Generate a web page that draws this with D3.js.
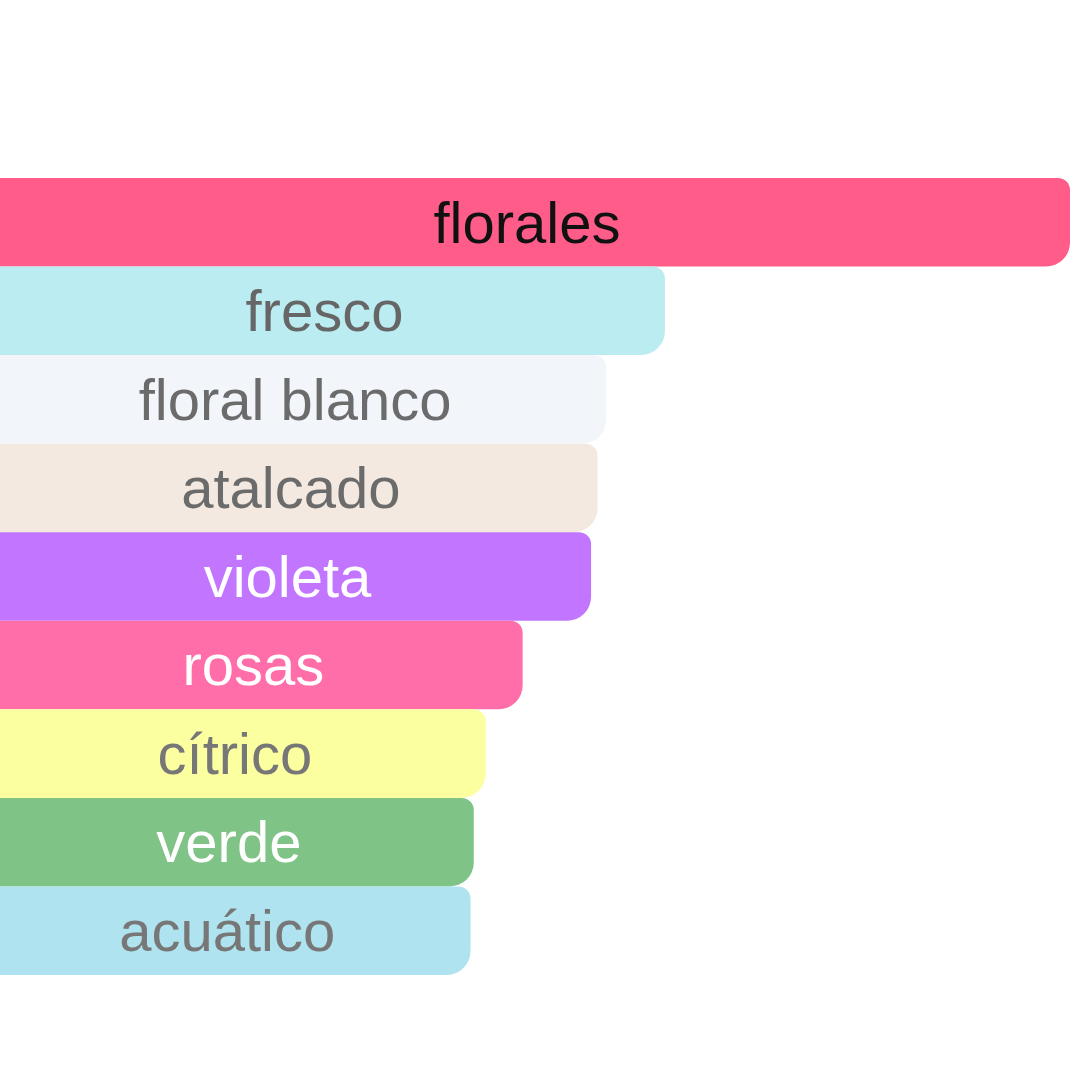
<!DOCTYPE html>
<html>
<head>
<meta charset="utf-8">
<script src="https://cdn.jsdelivr.net/npm/d3@7"></script>
<style>
  html, body { margin: 0; padding: 0; background: #fff; }
  svg { display: block; }
</style>
</head>
<body>
<svg id="chart" width="1080" height="1080"></svg>
<script>
// Accords (share of the strongest one, %)
const accords = ["florales", "fresco", "floral blanco", "atalcado", "violeta", "rosas", "cítrico", "verde", "acuático"];
const strengths = [100, 62.7, 57.3, 56.5, 55.9, 49.6, 46.2, 45.1, 44.8];
const barColors = ["#ff5c8a", "#baecf1", "#f2f5fa", "#f3e9e0", "#c275ff", "#ff6ea8", "#fcff9f", "#7fc387", "#aee3ef"];
const textColors = ["#111111", "#666666", "#6b6b6b", "#6b6b6b", "#ffffff", "#ffffff", "#777777", "#ffffff", "#777777"];

const rows = accords.map((name, i) => ({
  name,
  value: strengths[i],
  fill: barColors[i],
  text: textColors[i]
}));

const svg = d3.select("#chart");

// bars start a little off the left edge
const x = d3.scaleLinear().domain([0, 100]).range([-16, 1070]);
const y = d3.scaleBand().domain(accords).range([178, 975]).padding(0);

// top-right corner is tighter than the bottom-right one
const topR = 12;
const bottomR = 24;

const barPath = (x0, x1, y0, h) => {
  const rt = Math.min(topR, (x1 - x0) / 2);
  const rb = Math.min(bottomR, (x1 - x0) / 2);
  return `M${x0},${y0}H${x1 - rt}A${rt},${rt} 0 0 1 ${x1},${y0 + rt}` +
         `V${y0 + h - rb}A${rb},${rb} 0 0 1 ${x1 - rb},${y0 + h}H${x0}Z`;
};

const g = svg.append("g");

g.selectAll("path.bar")
  .data(rows)
  .join("path")
  .attr("class", "bar")
  .attr("d", d => barPath(x(0), x(d.value), y(d.name), y.bandwidth()))
  .attr("fill", d => d.fill);

g.selectAll("text.label")
  .data(rows)
  .join("text")
  .attr("class", "label")
  .attr("x", d => (x(0) + x(d.value)) / 2)
  .attr("y", d => y(d.name) + y.bandwidth() / 2)
  .attr("dy", "0.35em")
  .attr("text-anchor", "middle")
  .attr("font-family", "'Liberation Sans', Arial, sans-serif")
  .attr("font-size", 58)
  .attr("fill", d => d.text)
  .text(d => d.name);
</script>
</body>
</html>
